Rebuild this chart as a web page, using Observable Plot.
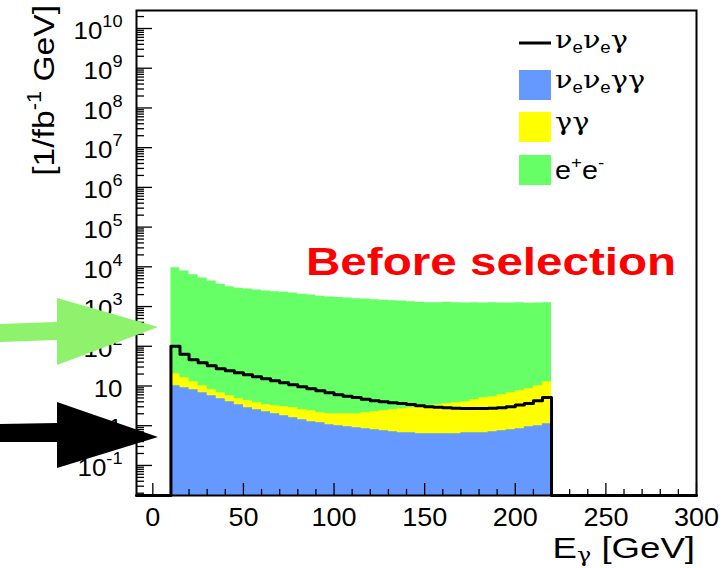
<!DOCTYPE html>
<html><head><meta charset="utf-8">
<script src="https://cdn.jsdelivr.net/npm/d3@7"></script>
<script src="https://cdn.jsdelivr.net/npm/@observablehq/plot@0.6"></script>
<style>
body{margin:0;background:#fff;}
#wrap{position:relative;width:723px;height:568px;overflow:hidden;}
#wrap svg{display:block;}
</style></head><body><div id="wrap"></div>
<script>
// ---- data ----
const binLow = [10,15,20,25,30,35,40,45,50,55,60,65,70,75,80,85,90,95,100,105,110,115,120,125,130,135,140,145,150,155,160,165,170,175,180,185,190,195,200,205,210,215];
const binHigh = 220;
// nu_e nu_e gamma gamma (blue, bottom of stack)
const nunugg = [10.2,9.05,8.07,6.78,5.70,4.79,4.02,3.38,2.84,2.53,2.25,2.00,1.79,1.59,1.42,1.26,1.19,1.06,1.00,0.944,0.891,0.840,0.793,0.748,0.706,0.667,0.667,0.629,0.629,0.629,0.629,0.629,0.667,0.667,0.667,0.706,0.748,0.793,0.840,0.944,1.00,1.12];
// gamma gamma (yellow, stacked)
const gg = [10.2,7.15,4.73,3.42,2.37,1.99,1.68,1.41,1.43,1.27,1.13,1.19,1.22,1.25,1.11,1.13,0.94,0.94,1.00,1.06,1.11,1.29,1.46,1.64,1.82,2.01,2.17,2.38,2.56,2.75,2.95,3.17,3.35,3.85,4.40,4.66,5.29,5.99,6.78,7.61,9.2,11.7];
// e+ e- (green, stacked)
const ee = [9480,7780,6290,5190,4390,3640,3160,2895,2745,2596,2446,2367,2297,2177,2047,1938,1828,1728,1678,1628,1578,1538,1488,1448,1407,1367,1327,1287,1247,1247,1287,1247,1216,1245,1215,1245,1214,1213,1242,1211,1210,1237];
// nu_e nu_e gamma (black line, not stacked)
const nunug = [100,63,46,38.6,32.4,27.3,24.3,21.6,19.2,17.1,15.3,13.6,12.1,10.8,9.6,8.55,7.6,6.8,6.0,5.5,5.1,4.65,4.25,4.0,3.8,3.6,3.4,3.2,3.0,2.9,2.85,2.75,2.7,2.7,2.7,2.75,2.85,3.0,3.3,3.6,4.25,5.1];

const xRange = [-9, 300];
const yRange = [0.0175, 2.84e10];
const xMajorTicks = [0,50,100,150,200,250,300];
const xMinorTicks = [10,20,30,40,60,70,80,90,110,120,130,140,160,170,180,190,210,220,230,240,260,270,280,290];
const yMajorTicks = [1e-1,1,10,1e2,1e3,1e4,1e5,1e6,1e7,1e8,1e9,1e10];
const yTickLabels = ["10^{-1}","1","10","10^{2}","10^{3}","10^{4}","10^{5}","10^{6}","10^{7}","10^{8}","10^{9}","10^{10}"];

const legendLabels = ["ν_{e}ν_{e}γ","ν_{e}ν_{e}γγ","γγ","e^{+}e^{-}"];
const legendColors = ["black","#6699ff","#ffff00","#66ff66"];
const xTitle = "E_{γ} [GeV]";
const yTitle = "[1/fb^{-1} GeV]";
const note = "Before selection";

// ---- derived tables ----
const floor = yRange[0];
const rows = binLow.map((x, i) => ({
  x, base: floor,
  blue: nunugg[i],
  yel: nunugg[i] + gg[i],
  tot: nunugg[i] + gg[i] + ee[i],
  line: nunug[i]
}));
const areaRows = [...rows, {...rows[rows.length - 1], x: binHigh}];
const lineRows = [{x: xRange[0], line: floor}, ...rows, {x: binHigh, line: floor}, {x: xRange[1], line: floor}];
const yMinorTicks = [];
for (const m of [1e-2, ...yMajorTicks]) for (let k = 2; k <= 9; k++) {
  const v = k * m; if (v > yRange[0] && v < yRange[1]) yMinorTicks.push(v);
}
const labelOf = new Map(yMajorTicks.map((v, i) => [v, yTickLabels[i]]));

const plot = Plot.plot({
  width: 723, height: 568,
  marginLeft: 136, marginRight: 27, marginTop: 10, marginBottom: 73,
  x: {domain: xRange, label: null},
  y: {type: "log", domain: yRange, label: null},
  style: {fontFamily: "'Liberation Sans', Arial, sans-serif", fontSize: "24px", color: "black", background: "white"},
  marks: [
    Plot.areaY(areaRows, {x: "x", y1: "base", y2: "tot", curve: "step-after", fill: "#66ff66"}),
    Plot.areaY(areaRows, {x: "x", y1: "base", y2: "yel", curve: "step-after", fill: "#ffff00"}),
    Plot.areaY(areaRows, {x: "x", y1: "base", y2: "blue", curve: "step-after", fill: "#6699ff"}),
    Plot.line(lineRows, {x: "x", y: "line", curve: "step-after", stroke: "black", strokeWidth: 3}),
    Plot.axisX({ticks: xMinorTicks, tickSize: -6, tickFormat: () => "", strokeWidth: 1.3}),
    Plot.axisX({ticks: xMajorTicks, tickSize: 0 - 12, tickFormat: () => "", strokeWidth: 1.3}),
    Plot.axisX({ticks: xMajorTicks, tickSize: 0, tickPadding: 13, fontSize: 25, tickFormat: d => String(d)}),
    Plot.axisY({ticks: yMinorTicks, tickSize: -8, tickFormat: () => "", strokeWidth: 1.3}),
    Plot.axisY({ticks: yMajorTicks, tickSize: -16, tickFormat: () => "", strokeWidth: 1.3}),
    Plot.axisY({ticks: yMajorTicks, tickSize: 0, tickPadding: 14, dy: 3, fontSize: 24, tickFormat: d => labelOf.get(d)}),
    Plot.frame({stroke: "black", strokeWidth: 2})
  ]
});
const wrap = document.getElementById("wrap");
wrap.appendChild(plot);

const GREEK_FONT = "'DejaVu Serif', 'Liberation Serif', serif";
// rich text: _{..} subscript, ^{..} superscript, Greek in serif
function rich(textEl, str, size, opts = {}) {
  const sub = opts.sub ?? 0.18, sup = opts.sup ?? 0.45, small = opts.small ?? 0.65;
  const sel = d3.select(textEl);
  let i = 0, shift = 0;
  while (i < str.length) {
    let mode = null, chunk;
    if ((str[i] === "_" || str[i] === "^") && str[i + 1] === "{") {
      mode = str[i];
      const j = str.indexOf("}", i);
      chunk = str.slice(i + 2, j); i = j + 1;
    } else { chunk = str[i]; i++; }
    const target = mode === "_" ? size * sub : mode === "^" ? -size * sup : 0;
    const fs = mode ? size * small : size;
    const parts = chunk.match(/[\u0370-\u03ff]+|[^\u0370-\u03ff]+/g) || [];
    parts.forEach((p, k) => {
      const ts = sel.append("tspan").text(p).attr("font-size", fs);
      if (k === 0) ts.attr("dy", target - shift);
      if (/[\u0370-\u03ff]/.test(p)) ts.attr("font-family", GREEK_FONT);
    });
    shift = target;
  }
}
// horizontal stretch of a text around its anchor (positions stay in the transform)
function stretch(t, s) {
  const tr = t.getAttribute("transform") || "";
  t.setAttribute("transform", (tr + ` scale(${s},1)`).trim());
}
plot.querySelectorAll("text").forEach(t => {
  const s = t.textContent;
  if (!s) return;
  if (s.includes("^")) {
    const yAttr = t.getAttribute("y");
    t.textContent = "";
    rich(t, s, 24, {sup: 0.5, small: 0.7});
    if (yAttr !== null) t.setAttribute("y", yAttr);
  }
  stretch(t, 1.08);
});

// ---- overlay: titles, legend, annotation ----
const ov = d3.select(wrap).append("svg")
  .attr("width", 723).attr("height", 568)
  .style("position", "absolute").style("left", 0).style("top", 0)
  .attr("font-family", "'Liberation Sans', Arial, sans-serif");

// arrows
ov.append("polygon").attr("fill", "#8ef26c")
  .attr("points", "0,324 57,322 57,298 158,327 57,365 57,340 0,342");
ov.append("polygon").attr("fill", "black")
  .attr("points", "0,424 57,423 57,402 158,437 57,468 57,442 0,442");

// y title
const yt = ov.append("text").attr("text-anchor", "end")
  .attr("transform", "translate(54,5) rotate(-90) scale(1.12,1)");
rich(yt.node(), yTitle, 30);
// x title
const xt = ov.append("text").attr("text-anchor", "end")
  .attr("transform", "translate(695,558) scale(1.22,1)");
rich(xt.node(), xTitle, 30, {sub: 0.12});
// note
ov.append("text").attr("transform", "translate(306,275) scale(1.22,1)")
  .attr("font-size", 39).attr("font-weight", "bold").attr("fill", "#ff0000").text(note);

// legend
const rowY = [43, 85, 127, 170];
const baseY = [48, 88, 130, 179];
legendLabels.forEach((lab, i) => {
  if (i === 0) ov.append("line").attr("x1", 519).attr("x2", 551).attr("y1", rowY[i]).attr("y2", rowY[i]).attr("stroke", legendColors[i]).attr("stroke-width", 3);
  else ov.append("rect").attr("x", 519).attr("y", rowY[i] - 15).attr("width", 32).attr("height", 30).attr("fill", legendColors[i]);
  const t = ov.append("text").attr("transform", `translate(555,${baseY[i]}) scale(1.15,1)`);
  rich(t.node(), lab, 25);
});
</script></body></html>
